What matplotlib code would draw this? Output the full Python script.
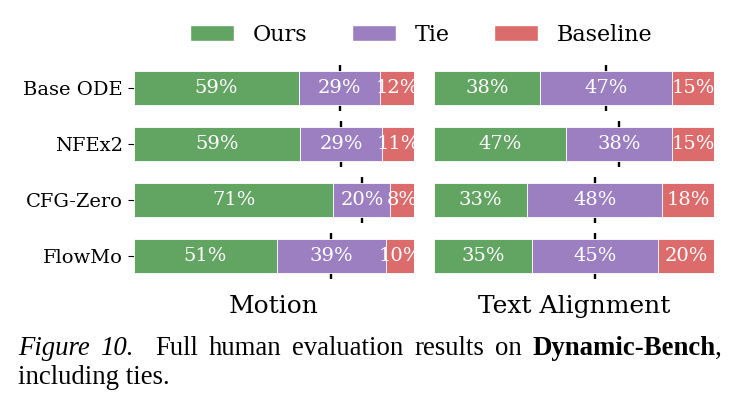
import numpy as np
import matplotlib
matplotlib.use("Agg")
import matplotlib.pyplot as plt
from matplotlib.patches import Patch

methods = ["Base ODE", "NFEx2", "CFG-Zero", "FlowMo"]
series = ["Ours", "Tie", "Baseline"]
# shares (labels show them rounded)
motion_ours = [59.0, 59.4, 71.2, 51.0]
motion_tie = [29.0, 29.3, 20.4, 39.0]
motion_base = [12.0, 11.3, 8.4, 10.0]
text_ours = [38.0, 47.0, 33.3, 35.0]
text_tie = [47.0, 38.0, 48.3, 45.0]
text_base = [15.0, 15.0, 18.4, 20.0]
panel_titles = ["Motion", "Text Alignment"]

colors = ["#62a462", "#9b7fc0", "#dc6b6b"]
plt.rcParams['font.family'] = 'DejaVu Serif'

W, H = 738, 403
fig = plt.figure(figsize=(W / 100, H / 100), dpi=100)

def ax_at(x0, x1, y0, y1):
    return fig.add_axes([x0 / W, 1 - y1 / H, (x1 - x0) / W, (y1 - y0) / H])

ax1 = ax_at(134, 414, 60, 284)
ax2 = ax_at(434, 714, 60, 284)

panels = [(ax1, [motion_ours, motion_tie, motion_base]),
          (ax2, [text_ours, text_tie, text_base])]
y = np.arange(len(methods))
for k, (ax, data) in enumerate(panels):
    data = np.array(data, dtype=float)
    left = np.zeros(len(methods))
    # tie midpoint marker, drawn behind the bars
    mid = data[0] + data[1] / 2
    ax.vlines(mid, y - 0.41, y + 0.41, color="black", linewidth=1.7, zorder=1)
    for i, name in enumerate(series):
        ax.barh(y, data[i], left=left, height=0.6, color=colors[i],
                edgecolor="white", linewidth=0.6, zorder=2, label=name)
        for j in range(len(methods)):
            ax.text(left[j] + data[i][j] / 2, y[j], f"{data[i][j]:.0f}%",
                    ha="center", va="center", color="white", fontsize=14, zorder=3)
        left += data[i]
    ax.set_xlim(0, 100)
    ax.set_ylim(3.5, -0.5)
    ax.set_xticks([])
    for s in ax.spines.values():
        s.set_visible(False)
    ax.set_xlabel(panel_titles[k], fontsize=18, labelpad=8)
    if k == 0:
        ax.set_yticks(y)
        ax.set_yticklabels(methods, fontsize=14)
        ax.tick_params(axis="y", length=4, width=0.8, pad=4)
    else:
        ax.set_yticks([])

handles = [Patch(facecolor=c, edgecolor="white") for c in colors]
fig.legend(handles, series, loc="center", bbox_to_anchor=(421 / W, 1 - 35 / H),
           ncol=3, frameon=False, fontsize=16, handlelength=2.0, handleheight=0.73,
           columnspacing=2.0, handletextpad=0.82)

# caption, justified line + short second line
cap_font = dict(family="Liberation Serif", size=19.3)
line1 = [("Figure", "italic", "normal", 0), ("10.", "italic", "normal", 1),
         ("Full", "normal", "normal", 1), ("human", "normal", "normal", 1),
         ("evaluation", "normal", "normal", 1), ("results", "normal", "normal", 1),
         ("on", "normal", "normal", 1), ("Dynamic-Bench", "normal", "bold", 1),
         (",", "normal", "normal", -1)]
fig.canvas.draw()
r = fig.canvas.get_renderer()
texts = []
for word, style, weight, gap in line1:
    t = fig.text(0, 1 - 355 / H, word, fontstyle=style, fontweight=weight,
                 va="baseline", ha="left", **cap_font)
    texts.append(t)
widths = [t.get_window_extent(r).width for t in texts]
x_left, x_right = 18, 722
n_gaps = sum(1 for w in line1 if w[3] > 0) + 1  # double space after "10."
space = (x_right - x_left - sum(widths)) / n_gaps
x = x_left
for (word, style, weight, gap), t, w in zip(line1, texts, widths):
    if gap > 0:
        x += space * (2 if word == "Full" else 1)
    t.set_x(x / W)
    x += w
fig.text(18 / W, 1 - 384 / H, "including ties.", va="baseline", ha="left", **cap_font)

fig.savefig("out.png", dpi=100)
